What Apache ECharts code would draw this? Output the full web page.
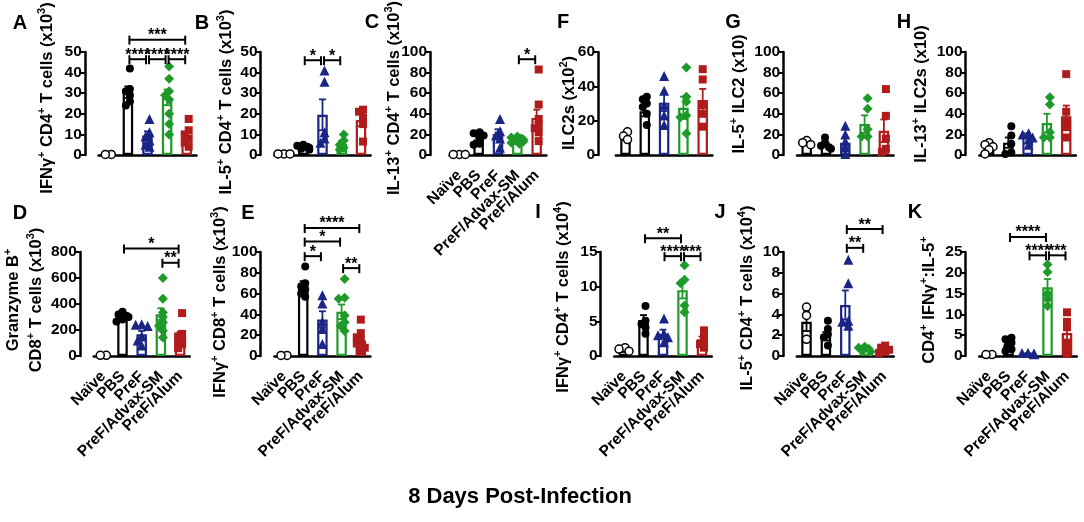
<!DOCTYPE html>
<html>
<head>
<meta charset="utf-8">
<script src="https://cdn.jsdelivr.net/npm/echarts@6/dist/echarts.min.js"></script>
<style>
html, body { margin: 0; padding: 0; background: #fff; }
#chart { width: 1084px; height: 522px; }
</style>
</head>
<body>
<div id="chart"></div>
<script>
var groups = ['Naïve', 'PBS', 'PreF', 'PreF/Advax-SM', 'PreF/Alum'];
var colors = ['#000000', '#000000', '#1b2585', '#1f9a2a', '#b01c1c'];
var symbols = ['circle', 'circle', 'triangle', 'diamond', 'rect'];

// A: IFNg+ CD4+ T cells (x10^3)
var meanA = [0, 30.5, 9.5, 28, 9];
var semA = [0, 2.8, 2, 3.8, 2];
var ptsA = [[0.3, 0.3], [42, 32, 31, 29, 26, 24], [17.5, 11, 9, 7, 5, 4], [43, 37, 31, 29, 27, 20, 15, 10], [17.5, 12, 10, 8, 6, 4]];
var sigA = [[1, 4, 56, '***'], [1, 2, 46.5, '****'], [2, 3, 46.5, '****'], [3, 4, 46.5, '****']];

// B: IL-5+ CD4+ T cells (x10^3)
var meanB = [0.5, 4, 19.5, 5.5, 17];
var semB = [0.1, 0.5, 7.5, 1.5, 3];
var ptsB = [[0.5, 0.5, 0.5], [5, 4.5, 4, 3.5, 3, 2.5], [41, 35.5, 11, 8, 6], [10, 7, 5, 3.5, 2.5], [22, 21, 18, 15, 6.5]];
var sigB = [[1, 2, 46, '*'], [2, 3, 46, '*']];

// C: IL-13+ CD4+ T cells (x10^3)
var meanC = [0.5, 15, 20.5, 14.5, 36];
var semC = [0.1, 2, 4.5, 1, 8];
var ptsC = [[0.5, 0.5, 0.5], [22, 21, 19, 16, 11, 10], [35, 23, 19, 16, 7], [18, 17, 16, 15, 14, 13, 12, 11], [83, 49, 35, 29, 26, 22, 13.5]];
var sigC = [[3, 4, 93, '*']];

// F: ILC2s (x10^2)
var meanF = [11, 25.5, 30.5, 27.5, 32];
var semF = [1.5, 3, 5, 6.5, 6.5];
var ptsF = [[13.5, 11, 9], [34, 32.5, 30, 28, 24, 17.5], [46, 37.5, 29, 23, 17.5], [51, 34, 31, 23, 22, 12.5], [50, 44, 29, 24, 16.5]];
var sigF = [];

// G: IL-5+ ILC2 (x10)
var meanG = [11, 10, 12, 30, 23.5];
var semG = [1.5, 2, 5, 8.5, 11];
var ptsG = [[14, 12, 10], [17, 12, 9, 7.5, 6], [28.5, 20, 13, 7.5, 1], [55, 45, 25, 18, 18], [64, 38, 16, 6, 3]];
var sigG = [];

// H: IL-13+ ILC2s (x10)
var meanH = [7, 12, 19, 31, 37.5];
var semH = [2, 5, 2, 9, 10.5];
var ptsH = [[12, 10, 8, 5, 1], [28, 19, 11, 2.5, 1], [21, 20, 17, 15, 10], [56, 49, 22, 17, 17], [78.5, 42, 32, 27, 17]];
var sigH = [];

// D: Granzyme B+ CD8+ T cells (x10^3)
var meanD = [0, 300, 168, 322, 155];
var semD = [0, 15, 25, 45, 30];
var ptsD = [[5, 5], [340, 320, 310, 300, 280, 265], [245, 240, 230, 150, 120, 80], [600, 440, 335, 300, 258, 232, 194, 142], [330, 170, 150, 130, 110, 90, 60]];
var sigD = [[1, 4, 826, '*'], [3, 4, 717, '**']];

// E: IFNg+ CD8+ T cells (x10^3)
var meanE = [0, 68, 35, 42.5, 15];
var semE = [0, 4, 8, 7, 4];
var ptsE = [[0.5, 0.5], [86, 70, 67, 64, 60, 57], [58.5, 50.5, 33, 26, 11.5], [74, 56, 55, 39, 32.5, 29, 24], [35, 22, 18, 15, 12, 10, 8, 5]];
var sigE = [[1, 4, 123, '****'], [1, 3, 110, '*'], [1, 2, 96, '*'], [3, 4, 84.5, '**']];

// I: IFNg+ CD4+ T cells (x10^4)
var meanI = [0.8, 5.2, 3.2, 9.5, 2.4];
var semI = [0.15, 0.7, 0.6, 1.2, 0.4];
var ptsI = [[1.2, 1, 0.7], [7.2, 5.1, 4.6, 4.1, 3.2], [5.4, 3.2, 3, 2.7, 2], [13.1, 11, 10.5, 7.3, 6.3], [3.7, 2.9, 2.2, 1.7, 1.2]];
var sigI = [[1, 3, 17, '**'], [2, 3, 14.4, '****'], [3, 4, 14.4, '***']];

// J: IL-5+ CD4+ T cells (x10^4)
var meanJ = [3.3, 1.9, 4.9, 0.6, 0.5];
var semJ = [0.9, 0.4, 1.4, 0.1, 0.1];
var ptsJ = [[4.7, 3.9, 1.6], [3.4, 2.6, 2.1, 1.8, 1], [9.25, 7, 3.4, 3.3, 2.9], [0.9, 0.8, 0.7, 0.5, 0.4], [1, 0.8, 0.6, 0.4, 0.3]];
var sigJ = [[2, 4, 12.2, '**'], [2, 3, 10.4, '**']];

// K: CD4+ IFNg+:IL-5+
var meanK = [0.3, 2.3, 0.6, 16.5, 5.5];
var semK = [0.05, 0.5, 0.1, 2, 1.6];
var ptsK = [[0.35, 0.35], [4.4, 4, 3.2, 2.4, 1.6, 1.2], [0.8, 0.7, 0.6, 0.5, 0.4], [22, 20.2, 15, 13.7, 12], [10.5, 8.2, 6.9, 3.2, 1.6, 0.5]];
var sigK = [[1, 3, 28.6, '****'], [2, 3, 24.2, '****'], [3, 4, 24.2, '***']];

var FONT = '"Liberation Sans", Arial, sans-serif';

var panels = [
    {key: 'A', mean: meanA, sem: semA, pts: ptsA, sig: sigA, max: 50, step: 10, x0: 108.3, band: 19.6, top: 52, labels: false,
        title: 'IFNγ{s|+} CD4{s|+} T cells (x10{s|3})', tx: 47, ty: 98, lx: 20, ly: 23},
    {key: 'B', mean: meanB, sem: semB, pts: ptsB, sig: sigB, max: 50, step: 10, x0: 284, band: 19.25, top: 52, labels: false,
        title: 'IL-5{s|+} CD4{s|+} T cells (x10{s|3})', tx: 226, ty: 102, lx: 202, ly: 23},
    {key: 'C', mean: meanC, sem: semC, pts: ptsC, sig: sigC, max: 100, step: 20, x0: 459.3, band: 19.35, top: 52, labels: true, yx: 430,
        title: 'IL-13{s|+} CD4{s|+} T cells (x10{s|3})', tx: 394, ty: 98, lx: 372, ly: 22},
    {key: 'F', mean: meanF, sem: semF, pts: ptsF, sig: sigF, max: 60, step: 20, x0: 625.5, band: 19.3, top: 52, labels: false, yx: 598,
        title: 'ILC2s (x10{s|2})', tx: 569, ty: 103, lx: 563, ly: 22},
    {key: 'G', mean: meanG, sem: semG, pts: ptsG, sig: sigG, max: 100, step: 20, x0: 806.7, band: 19.3, top: 52, labels: false,
        title: 'IL-5{s|+} ILC2 (x10)', tx: 739, ty: 94, lx: 733, ly: 22},
    {key: 'H', mean: meanH, sem: semH, pts: ptsH, sig: sigH, max: 100, step: 20, x0: 989, band: 19.3, top: 52, labels: false,
        title: 'IL-13{s|+} ILC2s (x10)', tx: 921, ty: 94, lx: 904, ly: 22},
    {key: 'D', mean: meanD, sem: semD, pts: ptsD, sig: sigD, max: 800, step: 200, x0: 103.3, band: 19.2, top: 252, labels: true,
        title: 'Granzyme B{s|+}\nCD8{s|+} T cells (x10{s|3})', tx: 25, ty: 300, lh: 23, lx: 20, ly: 213},
    {key: 'E', mean: meanE, sem: semE, pts: ptsE, sig: sigE, max: 100, step: 20, x0: 284, band: 19.2, top: 252, labels: true,
        title: 'IFNγ{s|+} CD8{s|+} T cells (x10{s|3})', tx: 220, ty: 302, lx: 248, ly: 213},
    {key: 'I', mean: meanI, sem: semI, pts: ptsI, sig: sigI, max: 15, step: 5, x0: 624, band: 19.5, top: 252, labels: true,
        title: 'IFNγ{s|+} CD4{s|+} T cells (x10{s|4})', tx: 563, ty: 297, lx: 538, ly: 212},
    {key: 'J', mean: meanJ, sem: semJ, pts: ptsJ, sig: sigJ, max: 10, step: 2, x0: 806.5, band: 19.4, top: 252, labels: true,
        title: 'IL-5{s|+} CD4{s|+} T cells (x10{s|4})', tx: 747, ty: 298, lx: 720, ly: 212},
    {key: 'K', mean: meanK, sem: semK, pts: ptsK, sig: sigK, max: 25, step: 5, x0: 989, band: 19.5, top: 252, labels: true,
        title: 'CD4{s|+} IFNγ{s|+}:IL-5{s|+}', tx: 929, ty: 300, lx: 915, ly: 212}
];

// spread overlapping points sideways (pixel offsets), like a scatter dot plot
function swarm(vals, pxPerUnit) {
    var cand = [0, -4, 4, -2, 2, -6, 6];
    var placed = [];
    vals.forEach(function (v) {
        var y = v * pxPerUnit, c;
        for (c = 0; c < cand.length; c++) {
            var ok = placed.every(function (p) {
                var dx = p[0] - cand[c], dy = p[1] - y;
                return dx * dx + dy * dy >= 20;
            });
            if (ok) break;
        }
        placed.push([cand[Math.min(c, cand.length - 1)], y]);
    });
    var xs = placed.map(function (p) { return p[0]; });
    var mid = (Math.max.apply(null, xs) + Math.min.apply(null, xs)) / 2;
    return xs.map(function (x) { return x - mid; });
}

var grids = [], xAxes = [], yAxes = [], series = [], graphics = [];
var rich = {s: {fontSize: 11, fontWeight: 'bold', fontFamily: FONT, verticalAlign: 'top', lineHeight: 11, fill: '#000'}};
var symSize = [8, 8, 10, 10, 8];

panels.forEach(function (p, k) {
    var h = p.top < 200 ? 103 : 104;
    var left = p.x0 - p.band / 2;
    var yx = p.yx || (p.x0 - 23.5);
    grids.push({left: left, top: p.top, width: p.band * 5, height: h});
    xAxes.push({
        type: 'category', gridIndex: k, data: groups, offset: 11,
        axisLine: {lineStyle: {color: '#000', width: 2.5}},
        axisTick: {alignWithLabel: true, length: 6, lineStyle: {color: '#000', width: 2}},
        axisLabel: {show: p.labels, rotate: 45, interval: 0, margin: 7, fontSize: 15.5, fontWeight: 'bold', fontFamily: FONT, color: '#000'}
    });
    yAxes.push({
        type: 'value', gridIndex: k, min: 0, max: p.max, interval: p.step, offset: left - yx,
        axisLine: {show: true, lineStyle: {color: '#000', width: 2.5}},
        axisTick: {show: true, length: 5, lineStyle: {color: '#000', width: 2}},
        axisLabel: {margin: 3, fontSize: 15.5, fontWeight: 'bold', fontFamily: FONT, color: '#000'},
        splitLine: {show: false}
    });

    series.push({
        type: 'bar', xAxisIndex: k, yAxisIndex: k, barWidth: 10.5, silent: true, z: 2,
        data: p.mean.map(function (v, i) {
            return {value: v > 0 ? v : null, itemStyle: {color: '#fff', borderColor: colors[i], borderWidth: 2.2}};
        })
    });

    series.push({
        type: 'custom', xAxisIndex: k, yAxisIndex: k, silent: true, z: 4,
        data: p.mean.map(function (m, i) { return [i, m, p.sem[i]]; }),
        renderItem: function (params, api) {
            var i = api.value(0), m = api.value(1), s = api.value(2);
            if (!s) return null;
            var t = api.coord([i, m + s]), b = api.coord([i, Math.max(m - s, 0)]);
            var st = {stroke: colors[i], lineWidth: 1.8};
            return {type: 'group', children: [
                {type: 'line', shape: {x1: t[0], y1: t[1], x2: b[0], y2: b[1]}, style: st},
                {type: 'line', shape: {x1: t[0] - 3.5, y1: t[1], x2: t[0] + 3.5, y2: t[1]}, style: st},
                {type: 'line', shape: {x1: b[0] - 3.5, y1: b[1], x2: b[0] + 3.5, y2: b[1]}, style: st}
            ]};
        }
    });

    p.pts.forEach(function (vals, i) {
        var offs = swarm(vals, h / p.max);
        series.push({
            type: 'scatter', xAxisIndex: k, yAxisIndex: k, silent: true, z: 5,
            symbol: symbols[i], symbolSize: symSize[i],
            itemStyle: {color: i === 0 ? '#fff' : colors[i], borderColor: colors[i], borderWidth: i === 0 ? 1.5 : 0, opacity: 1},
            data: vals.map(function (v, j) { return {value: [i, v], symbolOffset: [offs[j], 0]}; })
        });
    });

    if (p.sig.length) {
        series.push({
            type: 'custom', xAxisIndex: k, yAxisIndex: k, silent: true, clip: false, z: 6,
            data: p.sig.map(function (s) { return [s[0], s[1], s[2]]; }),
            renderItem: function (params, api) {
                var a = api.coord([api.value(0), api.value(2)]);
                var b = api.coord([api.value(1), api.value(2)]);
                var x1 = a[0] + 1.5, x2 = b[0] - 1.5, y = a[1];
                var st = {stroke: '#000', lineWidth: 2};
                return {type: 'group', children: [
                    {type: 'line', shape: {x1: x1, y1: y, x2: x2, y2: y}, style: st},
                    {type: 'line', shape: {x1: x1, y1: y - 4, x2: x1, y2: y + 5}, style: st},
                    {type: 'line', shape: {x1: x2, y1: y - 4, x2: x2, y2: y + 5}, style: st},
                    {type: 'text', x: (x1 + x2) / 2, y: y + 4, style: {
                        text: p.sig[params.dataIndex][3], fill: '#000', fontSize: 16, fontWeight: 'bold',
                        fontFamily: FONT, align: 'center', verticalAlign: 'bottom'}}
                ]};
            }
        });
    }

    graphics.push({
        type: 'text', x: p.lx, y: p.ly, style: {text: p.key, fill: '#000', fontSize: 20, fontWeight: 'bold', fontFamily: FONT, align: 'center', verticalAlign: 'middle'}
    });
    graphics.push({
        type: 'text', x: p.tx, y: p.ty, rotation: Math.PI / 2,
        style: {text: p.title, fill: '#000', fontSize: 16.5, fontWeight: 'bold', fontFamily: FONT, lineHeight: p.lh || 21,
            align: 'center', verticalAlign: 'middle', rich: rich}
    });
});

graphics.push({
    type: 'text', x: 520, y: 497,
    style: {text: '8 Days Post-Infection', fill: '#000', fontSize: 22, fontWeight: 'bold', fontFamily: FONT, align: 'center', verticalAlign: 'middle'}
});

var chart = echarts.init(document.getElementById('chart'));
chart.setOption({
    animation: false,
    backgroundColor: '#fff',
    grid: grids,
    xAxis: xAxes,
    yAxis: yAxes,
    series: series,
    graphic: graphics
});
</script>
</body>
</html>
